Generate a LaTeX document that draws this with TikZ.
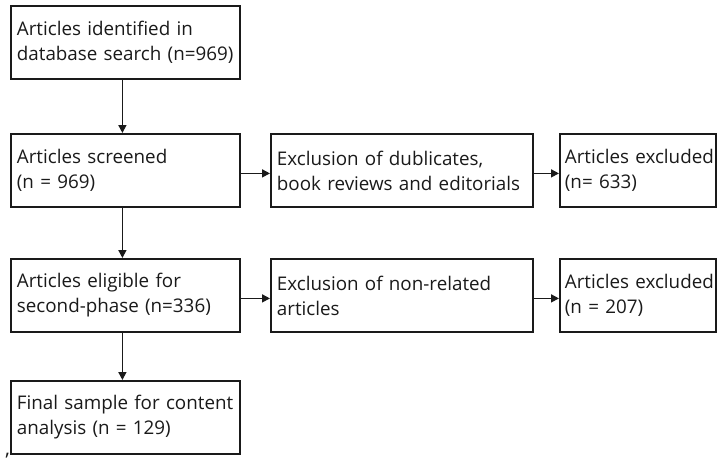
\documentclass[tikz,border=0pt]{standalone}
\usepackage{fontspec}
\setmainfont{Open Sans}
\usetikzlibrary{arrows.meta}
\definecolor{ink}{HTML}{1A1A1A}
% two fixed lines per box, never rewrapped
\newcommand{\twolines}[2]{\mbox{#1}\\\mbox{#2}}
\begin{document}
\begin{tikzpicture}[x=1pt,y=1pt,
  box/.style={draw=ink, line width=1.8pt, rectangle, anchor=north west,
    minimum height=73pt, inner xsep=6pt, inner ysep=0pt, align=left,
    text=ink, font=\fontsize{18.8}{25}\selectfont},
  link/.style={draw=ink, line width=1.6pt, -{Triangle[length=8pt,width=8pt]}}]
\useasboundingbox[fill=white] (0,0) rectangle (718,-460);

% left column
\node[box, text width=217pt] (search) at (10,-5)
  {\twolines{Articles identified in}{database search (n=969)}};
\node[box, text width=217pt] (screen) at (10,-133)
  {\twolines{Articles screened}{(n = 969)}};
\node[box, text width=217pt] (elig) at (10,-258)
  {\twolines{Articles eligible for}{second-phase (n=336)}};
\node[box, text width=217pt] (final) at (10,-380)
  {\twolines{Final sample for content}{analysis (n = 129)}};

% exclusion steps
\node[box, text width=250pt] (dupl) at (270,-133)
  {\twolines{Exclusion of dublicates,}{book reviews and editorials}};
\node[box, text width=250pt] (nonrel) at (270,-258)
  {\twolines{Exclusion of non-related}{articles}};

% excluded counts
\node[box, text width=146pt, inner xsep=5pt] (excA) at (559,-133)
  {\twolines{Articles excluded}{(n= 633)}};
\node[box, text width=146pt, inner xsep=5pt] (excB) at (559,-258)
  {\twolines{Articles excluded}{(n = 207)}};

% connectors
\draw[link] ([xshift=-3pt]search.south) -- ([xshift=-3pt]screen.north);
\draw[link] ([xshift=-3pt]screen.south) -- ([xshift=-3pt]elig.north);
\draw[link] ([xshift=-3pt]elig.south) -- ([xshift=-3pt]final.north);
\draw[link] ([yshift=-3pt]screen.east) -- ([yshift=-3pt]dupl.west);
\draw[link] ([yshift=-3pt]dupl.east) -- ([yshift=-3pt]excA.west);
\draw[link] ([yshift=-3pt]elig.east) -- ([yshift=-3pt]nonrel.west);
\draw[link] ([yshift=-3pt]nonrel.east) -- ([yshift=-3pt]excB.west);

\node[text=ink, font=\fontsize{20}{20}\selectfont, inner sep=0pt, anchor=base] (mark) at (7.5,-455) {,};
\end{tikzpicture}
\end{document}
